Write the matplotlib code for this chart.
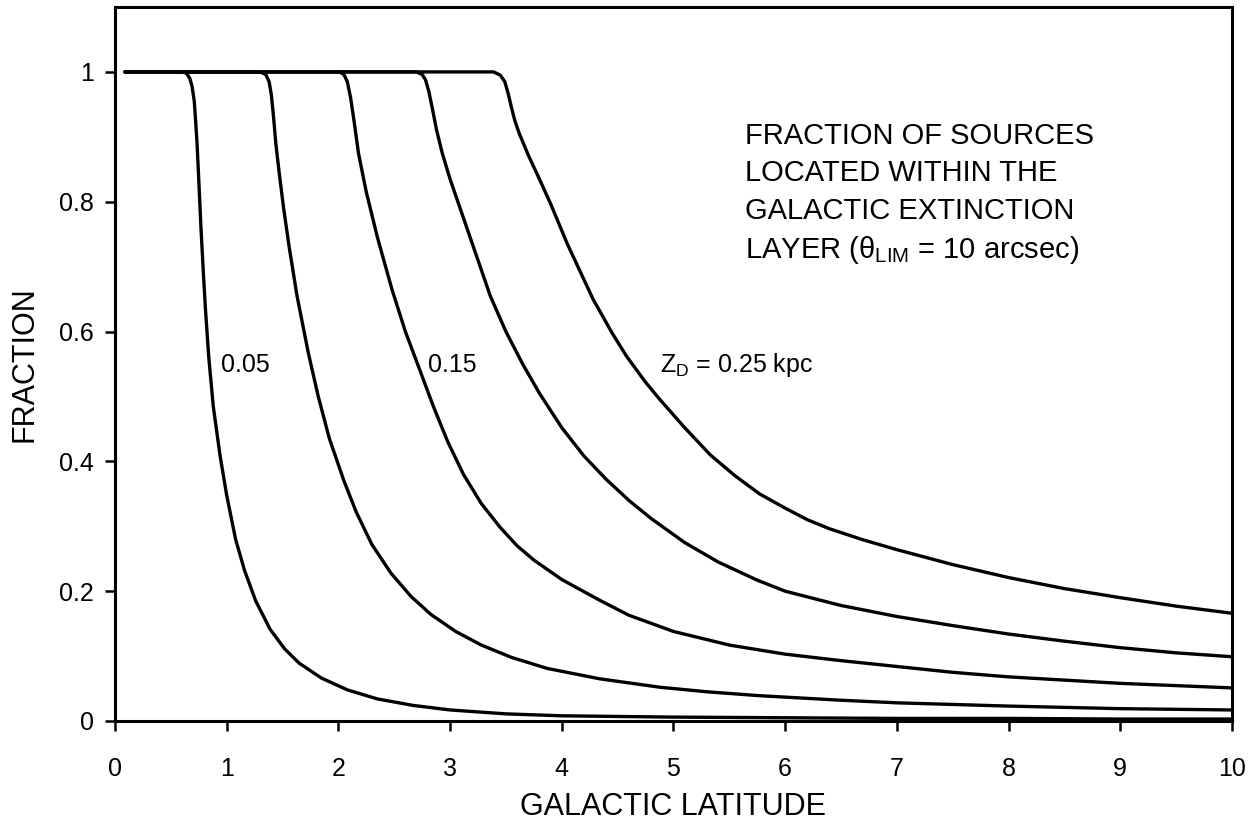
import numpy as np
import matplotlib
matplotlib.use("Agg")
import matplotlib.pyplot as plt

plt.rcParams['font.family'] = ['Liberation Sans', 'DejaVu Sans']
plt.rcParams['mathtext.fontset'] = 'custom'
plt.rcParams['mathtext.rm'] = 'Liberation Sans'
plt.rcParams['mathtext.it'] = 'Liberation Sans:italic'

# valores (latitude galactica, fracao), um par de listas por Z_D
x_005 = [0.09, 0.60, 0.64, 0.67, 0.69, 0.71, 0.72, 0.735, 0.75, 0.77, 0.79, 0.81, 0.84,
         0.88, 0.94, 1.00, 1.08, 1.16, 1.26, 1.39, 1.52, 1.65, 1.85, 2.08, 2.35, 2.67,
         3.0, 3.5, 4.0, 5.0, 6.0, 7.0, 8.0, 9.0, 10.0]
y_005 = [1.0, 1.0, 0.998, 0.99, 0.978, 0.955, 0.93, 0.89, 0.835, 0.76, 0.695, 0.635, 0.56,
         0.485, 0.41, 0.348, 0.28, 0.232, 0.185, 0.141, 0.111, 0.089, 0.066, 0.048, 0.034, 0.024,
         0.017, 0.011, 0.008, 0.006, 0.005, 0.004, 0.004, 0.003, 0.003]

x_010 = [0.09, 1.30, 1.35, 1.38, 1.40, 1.42, 1.44, 1.47, 1.51, 1.56, 1.63, 1.73, 1.82,
         1.92, 2.05, 2.16, 2.30, 2.47, 2.65, 2.83, 3.05, 3.28, 3.55, 3.87, 4.34, 4.88,
         5.3, 5.77, 6.5, 7.0, 8.0, 9.0, 10.0]
y_010 = [1.0, 1.0, 0.996, 0.985, 0.965, 0.93, 0.89, 0.845, 0.79, 0.73, 0.655, 0.568, 0.50,
         0.435, 0.37, 0.322, 0.272, 0.228, 0.192, 0.164, 0.138, 0.117, 0.098, 0.081, 0.065, 0.052,
         0.045, 0.039, 0.032, 0.028, 0.023, 0.019, 0.017]

x_015 = [0.09, 2.01, 2.05, 2.08, 2.11, 2.14, 2.18, 2.25, 2.35, 2.48, 2.60, 2.72, 2.85,
         2.98, 3.12, 3.28, 3.45, 3.60, 3.75, 4.0, 4.34, 4.6, 5.0, 5.5, 6.0, 6.5, 7.0,
         7.5, 8.0, 9.0, 10.0]
y_015 = [1.0, 1.0, 0.996, 0.985, 0.96, 0.925, 0.875, 0.815, 0.745, 0.665, 0.60, 0.545, 0.485,
         0.43, 0.38, 0.335, 0.298, 0.27, 0.248, 0.218, 0.186, 0.163, 0.138, 0.117, 0.103, 0.093, 0.084,
         0.075, 0.068, 0.058, 0.051]

x_020 = [0.09, 2.70, 2.75, 2.78, 2.81, 2.84, 2.88, 2.93, 3.0, 3.06, 3.2, 3.36, 3.5,
         3.65, 3.8, 4.0, 4.2, 4.4, 4.6, 4.8, 5.1, 5.4, 5.75, 6.0, 6.5, 7.0, 7.5, 8.0,
         8.5, 9.0, 9.5, 10.0]
y_020 = [1.0, 1.0, 0.996, 0.988, 0.97, 0.945, 0.91, 0.875, 0.835, 0.805, 0.735, 0.655, 0.60,
         0.55, 0.505, 0.452, 0.408, 0.372, 0.34, 0.312, 0.275, 0.245, 0.217, 0.20, 0.178, 0.161, 0.147, 0.134,
         0.123, 0.113, 0.105, 0.099]

x_025 = [0.09, 3.39, 3.45, 3.49, 3.52, 3.55, 3.58, 3.62, 3.70, 3.80, 3.90, 4.05, 4.28,
         4.45, 4.58, 4.75, 4.88, 5.1, 5.33, 5.55, 5.77, 6.0, 6.2, 6.4, 6.7, 7.0, 7.5,
         8.0, 8.5, 9.0, 9.5, 10.0]
y_025 = [1.0, 1.0, 0.995, 0.985, 0.967, 0.945, 0.925, 0.905, 0.872, 0.835, 0.797, 0.735, 0.65,
         0.598, 0.562, 0.522, 0.495, 0.452, 0.41, 0.378, 0.35, 0.328, 0.31, 0.296, 0.279, 0.264, 0.241,
         0.221, 0.204, 0.19, 0.177, 0.166]

curvas = [(x_005, y_005), (x_010, y_010), (x_015, y_015), (x_020, y_020), (x_025, y_025)]

xticks = list(range(0, 11))
yticks = [0, 0.2, 0.4, 0.6, 0.8, 1]
ytick_labels = ['0', '0.2', '0.4', '0.6', '0.8', '1']

fig = plt.figure(figsize=(12.55, 8.24), dpi=100)
ax = fig.add_axes([0.0916, 0.125, 0.890, 0.8665])

for xs, ys in curvas:
    ax.plot(xs, ys, color='black', lw=2.4, solid_joinstyle='round', solid_capstyle='round')

ax.set_xlim(0, 10)
ax.set_ylim(0, 1.1)
ax.set_xticks(xticks)
ax.set_xticklabels([str(t) for t in xticks])
ax.set_yticks(yticks)
ax.set_yticklabels(ytick_labels)
ax.tick_params(direction='out', length=7, width=1.8, labelsize=18)
ax.tick_params(axis='x', pad=19)
ax.tick_params(axis='y', pad=8)
for s in ax.spines.values():
    s.set_linewidth(2.2)

ax.set_xlabel('GALACTIC LATITUDE', fontsize=22, labelpad=8)
ax.set_ylabel('FRACTION', fontsize=22, labelpad=14)

# rotulos das curvas
ax.text(0.95, 0.549, '0.05', fontsize=18, va='center', ha='left')
ax.text(2.80, 0.549, '0.15', fontsize=18, va='center', ha='left')
ax.text(4.88, 0.549, r'Z$_{\mathrm{D}}$ = 0.25 kpc', fontsize=18, va='center', ha='left')

# texto explicativo
linhas = ['FRACTION OF SOURCES', 'LOCATED WITHIN THE', 'GALACTIC EXTINCTION',
          r'LAYER (θ$_{\mathrm{LIM}}$ = 10 arcsec)']
ys_txt = [0.902, 0.844, 0.785, 0.726]
for t, yy in zip(linhas, ys_txt):
    ax.text(5.64, yy, t, fontsize=21, va='center', ha='left')

fig.savefig('out.png', dpi=100)
